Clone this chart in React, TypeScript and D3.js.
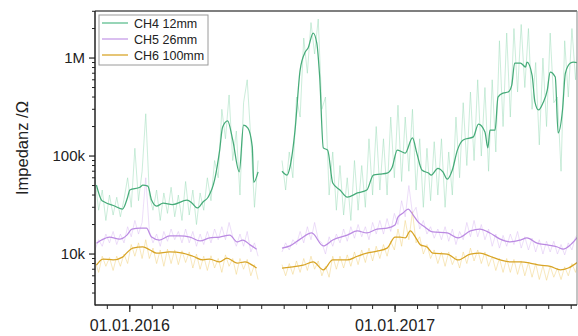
import React from 'react';
import * as d3 from 'd3';

const W = 578;
const H = 336;
const PLOT = { left: 95, right: 577, top: 11, bottom: 305 };

const X_START = Date.UTC(2015, 10, 14);
const X_END = Date.UTC(2017, 8, 9);
const Y_MIN = 3020;
const Y_MAX = 3.02e6;
const DAY0 = Date.UTC(2016, 0, 1);

const SERIES_NAMES = ['CH4 12mm', 'CH5 26mm', 'CH6 100mm'];
const Y_TICKS = [1e4, 1e5, 1e6];
const Y_TICK_LABELS = ['10k', '100k', '1M'];
const X_TICKS = [Date.UTC(2016, 0, 1), Date.UTC(2017, 0, 1)];
const X_TICK_LABELS = ['01.01.2016', '01.01.2017'];

// smoothed series: [days since 01.01.2016, kΩ]
const ch4Smooth1 = [[-46,50.5],[-39,35.5],[-35,34],[-21,30.9],[-10,28.8],[-3,38],[0,45],[14,48],[18,50.5],[25,49.4],[30,35.5],[37,30.9],[46,33],[59,32],[79,35.5],[86,33],[93,29.5],[101,34],[108,38],[117,57],[124,115],[128,197],[135,228],[142,146],[151,69],[157,207],[163,193],[169,124],[171,54],[177,69]];
const ch4Smooth2 = [[210,70],[217,64],[221,77],[228,184],[235,754],[242,1150],[246,1265],[253,1800],[258,1423],[262,640],[267,121],[273,115],[280,53],[290,45],[300,38],[314,42],[327,45],[336,64],[345,65.5],[355,67],[362,77],[369,115],[376,110],[380,107],[390,153],[396,107],[403,72],[412,67],[416,64],[425,75],[432,69],[438,58],[445,72],[452,115],[460,146],[474,157],[481,212],[490,176],[494,121],[497,184],[504,184],[508,400],[515,439],[522,450],[527,530],[531,889],[539,889],[546,810],[548,910],[555,670],[559,355],[564,295],[570,347],[576,471],[580,720],[587,640],[591,172],[597,295],[601,703],[608,889],[612,910],[620,889]];
const ch5Smooth1 = [[-46,12.9],[-39,13.9],[-28,14.9],[-14,14.2],[-4,15.6],[3,18],[14,18.4],[23,18.4],[30,14.9],[41,13.9],[55,15.3],[69,15.3],[83,14.9],[97,13.6],[110,14.6],[124,14.9],[138,15.6],[148,13.3],[156,13.9],[166,12.4],[175,11.2]];
const ch5Smooth2 = [[210,11.5],[221,12.1],[235,14.2],[251,16.4],[267,12.1],[280,13.9],[300,15.6],[314,17.2],[327,16.4],[341,18],[355,18.4],[366,19.8],[370,23.8],[377,26.2],[384,28.8],[391,25],[398,21.2],[407,18.9],[418,16.8],[438,16.4],[453,14.6],[470,17.2],[483,18],[497,16.4],[511,14.2],[525,13.3],[539,13.9],[548,14.6],[562,12.9],[576,12.4],[590,11.8],[598,11.2],[608,12.4],[620,15.6]];
const ch6Smooth1 = [[-46,7.7],[-37,8.9],[-23,8.7],[-10,9.3],[-3,10.5],[4,11.5],[18,11.8],[28,11],[37,10.2],[55,10.5],[73,10.2],[87,9.5],[101,8.7],[110,8.9],[124,8.3],[134,9.1],[148,8.1],[159,8.3],[169,7.7],[175,7.2]];
const ch6Smooth2 = [[210,7.2],[225,7.4],[239,7.7],[253,8.3],[267,6.9],[280,8.7],[300,8.7],[314,9.5],[327,10.2],[341,10.7],[355,11.5],[366,14.9],[373,14.9],[380,14.6],[387,17.2],[394,14.9],[401,12.4],[410,11.8],[418,10.2],[438,10],[453,8.7],[470,10],[483,10.2],[497,9.5],[511,8.7],[525,8.3],[539,8.3],[552,8.1],[566,7.7],[580,7.5],[594,6.9],[605,7.2],[620,8.5]];

// raw measurements (kΩ), sampled every RAW_STEP days from segment start
const RAW_STEP = 5;
const RAW1_START = -48;
const RAW2_START = 210;
const ch4Raw1 = [60,28,45,22,40,25,38,24,36,60,30,120,35,70,270,40,28,45,22,42,26,48,24,40,22,55,25,45,20,42,28,60,35,90,60,300,150,420,90,180,40,350,600,150,30,90];
const ch5Raw1 = [11,14,12,16,13,17,12.5,16,13,19,15,22,16,21,60,17,13,16,12,17,13.5,18,14,17,13,18,13,17,12,16,12.5,17,13,18,14,19,14,21,15,12,16,12,17,10.5,13,9.5];
const ch6Raw1 = [8.5,6.5,9.5,7.5,9.2,6.8,9.5,7.5,10,8,12.5,9.5,13,9,14,9,11.5,8,11,7.5,11.2,8,11,7.8,10.8,8.2,10.5,7.2,10,7,9.5,6.8,9.6,7.2,9,6.5,9.8,7.5,9,6.2,9,7,8.8,6,7.8,5.5];
const ch4Raw2 = [90,45,110,60,400,250,1600,700,2300,1100,2500,300,400,40,110,28,80,25,60,22,90,28,80,30,150,40,200,45,150,40,250,60,330,55,250,70,300,45,150,30,120,35,140,40,150,30,110,40,250,60,350,80,450,90,600,100,500,70,600,110,1500,200,1800,250,2000,450,2200,500,2000,300,900,130,1000,200,1800,350,400,70,1500,400,2000,600,1700];
const ch5Raw2 = [10.5,13,11,14,12.5,17,13,19,14,21,14,13,10,15,12,16,13,18,13.5,19,14.5,20,15,19,14,21,16,22,16,23,17,26,20,35,24,50,26,30,18,22,16,19,14.5,18,14,19,13.5,18,12.5,17,14,21,15,22,15,20,14,18,12,16,11.5,15.5,12,16,12.5,17,11.5,15,11,14.5,10.5,14,10,13.5,10.5,13.5,10,12.5,9.8,13,11,15,16];
const ch6Raw2 = [7.8,6,8,6.2,8.5,6.5,9,6.8,9.5,7,8.5,6,7.5,5.8,9.5,7,9.5,7.2,9.8,7.5,10.5,7.8,11,8.2,11.5,8.5,12,9,12.5,9.5,13.5,11,18,12,22,14,27,13,15,10,12.5,9,11,8,10.5,7.5,10.5,7.8,9.5,7.2,10.5,8,11.5,8.5,11,8,10.5,7.5,9.5,6.8,9,6.5,9,6.5,8.8,6.2,8.5,6,8.2,5.8,8,5.5,7.6,5.4,7.5,5.8,7.2,5.5,7.4,6,8,6.5,9];

const SMOOTH_COLORS = ['#46ab79', '#bb8ae2', '#d8a425'];
const RAW_COLORS = ['#9adbb8', '#dcbdf4', '#f2d27c'];
const LEGEND_COLORS = ['#5fbf90', '#c69de8', '#d9a62a'];

const FONT = "'Liberation Sans', Arial, Helvetica, sans-serif";

const toDate = (d: number) => new Date(DAY0 + d * 86400000);

export default function App() {
  const x = d3.scaleUtc().domain([new Date(X_START), new Date(X_END)]).range([PLOT.left, PLOT.right]);
  const y = d3.scaleLog().domain([Y_MIN, Y_MAX]).range([PLOT.bottom, PLOT.top]);

  const line = d3
    .line<number[]>()
    .x((d) => x(toDate(d[0])))
    .y((d) => y(d[1] * 1000))
    .curve(d3.curveMonotoneX);
  const rawLine = d3
    .line<number[]>()
    .x((d) => x(toDate(d[0])))
    .y((d) => y(d[1] * 1000));

  const rawPts = (arr: number[], start: number) => arr.map((v, i) => [start + i * RAW_STEP, v]);

  const raws = [
    [rawPts(ch4Raw1, RAW1_START), rawPts(ch4Raw2, RAW2_START)],
    [rawPts(ch5Raw1, RAW1_START), rawPts(ch5Raw2, RAW2_START)],
    [rawPts(ch6Raw1, RAW1_START), rawPts(ch6Raw2, RAW2_START)],
  ];
  const smooths = [
    [ch4Smooth1, ch4Smooth2],
    [ch5Smooth1, ch5Smooth2],
    [ch6Smooth1, ch6Smooth2],
  ];

  const minorY: number[] = [];
  for (let dec = 1e3; dec <= 1e6; dec *= 10) {
    for (let k = 2; k <= 9; k++) {
      const v = dec * k;
      if (v >= Y_MIN && v <= Y_MAX) minorY.push(v);
    }
  }
  const monthTicks = d3.utcMonth.range(new Date(X_START), new Date(X_END));

  return (
    <svg
      width={W}
      height={H}
      style={{ position: 'absolute', left: 0, top: 0, background: '#fff' }}
      fontFamily={FONT}
    >
      <defs>
        <clipPath id="plotclip">
          <rect x={PLOT.left} y={PLOT.top} width={PLOT.right - PLOT.left} height={PLOT.bottom - PLOT.top} />
        </clipPath>
        <filter id="soft" x="-5%" y="-5%" width="110%" height="110%">
          <feGaussianBlur stdDeviation="0.5" />
        </filter>
      </defs>
      <g clipPath="url(#plotclip)">
        <g filter="url(#soft)">
          {raws.map((segs, si) =>
            segs.map((pts, k) => (
              <path
                key={`r${si}${k}`}
                d={rawLine(pts) || ''}
                fill="none"
                stroke={RAW_COLORS[si]}
                strokeWidth={1}
                strokeOpacity={0.5}
              />
            ))
          )}
        </g>
        {smooths.map((segs, si) =>
          segs.map((pts, k) => (
            <path
              key={`s${si}${k}`}
              d={line(pts) || ''}
              fill="none"
              stroke={SMOOTH_COLORS[si]}
              strokeWidth={1.25}
            />
          ))
        )}
      </g>

      <line x1={PLOT.left} x2={PLOT.right} y1={PLOT.top} y2={PLOT.top} stroke="#555" strokeWidth={1.6} />
      <line x1={PLOT.right} x2={PLOT.right} y1={PLOT.top} y2={PLOT.bottom} stroke="#888" strokeWidth={1} />
      <line x1={PLOT.left} x2={PLOT.left} y1={PLOT.top} y2={PLOT.bottom + 0.5} stroke="#222" strokeWidth={1.5} />
      <line x1={PLOT.left} x2={PLOT.right} y1={PLOT.bottom} y2={PLOT.bottom} stroke="#222" strokeWidth={1.5} />

      {minorY.map((v) => (
        <line key={`my${v}`} x1={PLOT.left - 3} x2={PLOT.left} y1={y(v)} y2={y(v)} stroke="#222" strokeWidth={1} />
      ))}
      {Y_TICKS.map((v, i) => (
        <g key={`y${v}`}>
          <line x1={PLOT.left - 6} x2={PLOT.left} y1={y(v)} y2={y(v)} stroke="#222" strokeWidth={1.2} />
          <text x={PLOT.left - 10} y={y(v)} dy="0.36em" textAnchor="end" fontSize={15} fill="#222">
            {Y_TICK_LABELS[i]}
          </text>
        </g>
      ))}

      {monthTicks.map((m) => (
        <line key={`mx${+m}`} x1={x(m)} x2={x(m)} y1={PLOT.bottom} y2={PLOT.bottom + 4} stroke="#222" strokeWidth={1} />
      ))}
      {X_TICKS.map((t, i) => (
        <g key={`x${t}`}>
          <line x1={x(new Date(t))} x2={x(new Date(t))} y1={PLOT.bottom} y2={PLOT.bottom + 7} stroke="#222" strokeWidth={1.2} />
          <text x={x(new Date(t))} y={331} textAnchor="middle" fontSize={16} fill="#222">
            {X_TICK_LABELS[i]}
          </text>
        </g>
      ))}

      <text transform="translate(28,148) rotate(-90)" textAnchor="middle" fontSize={16.5} fill="#222">
        Impedanz /Ω
      </text>

      <rect x={99} y={15} width={109} height={50} fill="#fff" stroke="#9a9a9a" strokeWidth={1} />
      {SERIES_NAMES.map((name, i) => (
        <g key={name}>
          <line x1={102} x2={128} y1={23 + i * 16} y2={23 + i * 16} stroke={LEGEND_COLORS[i]} strokeWidth={1.3} />
          <text x={134} y={23 + i * 16} dy="0.36em" fontSize={12.5} fill="#222">
            {name}
          </text>
        </g>
      ))}
    </svg>
  );
}
